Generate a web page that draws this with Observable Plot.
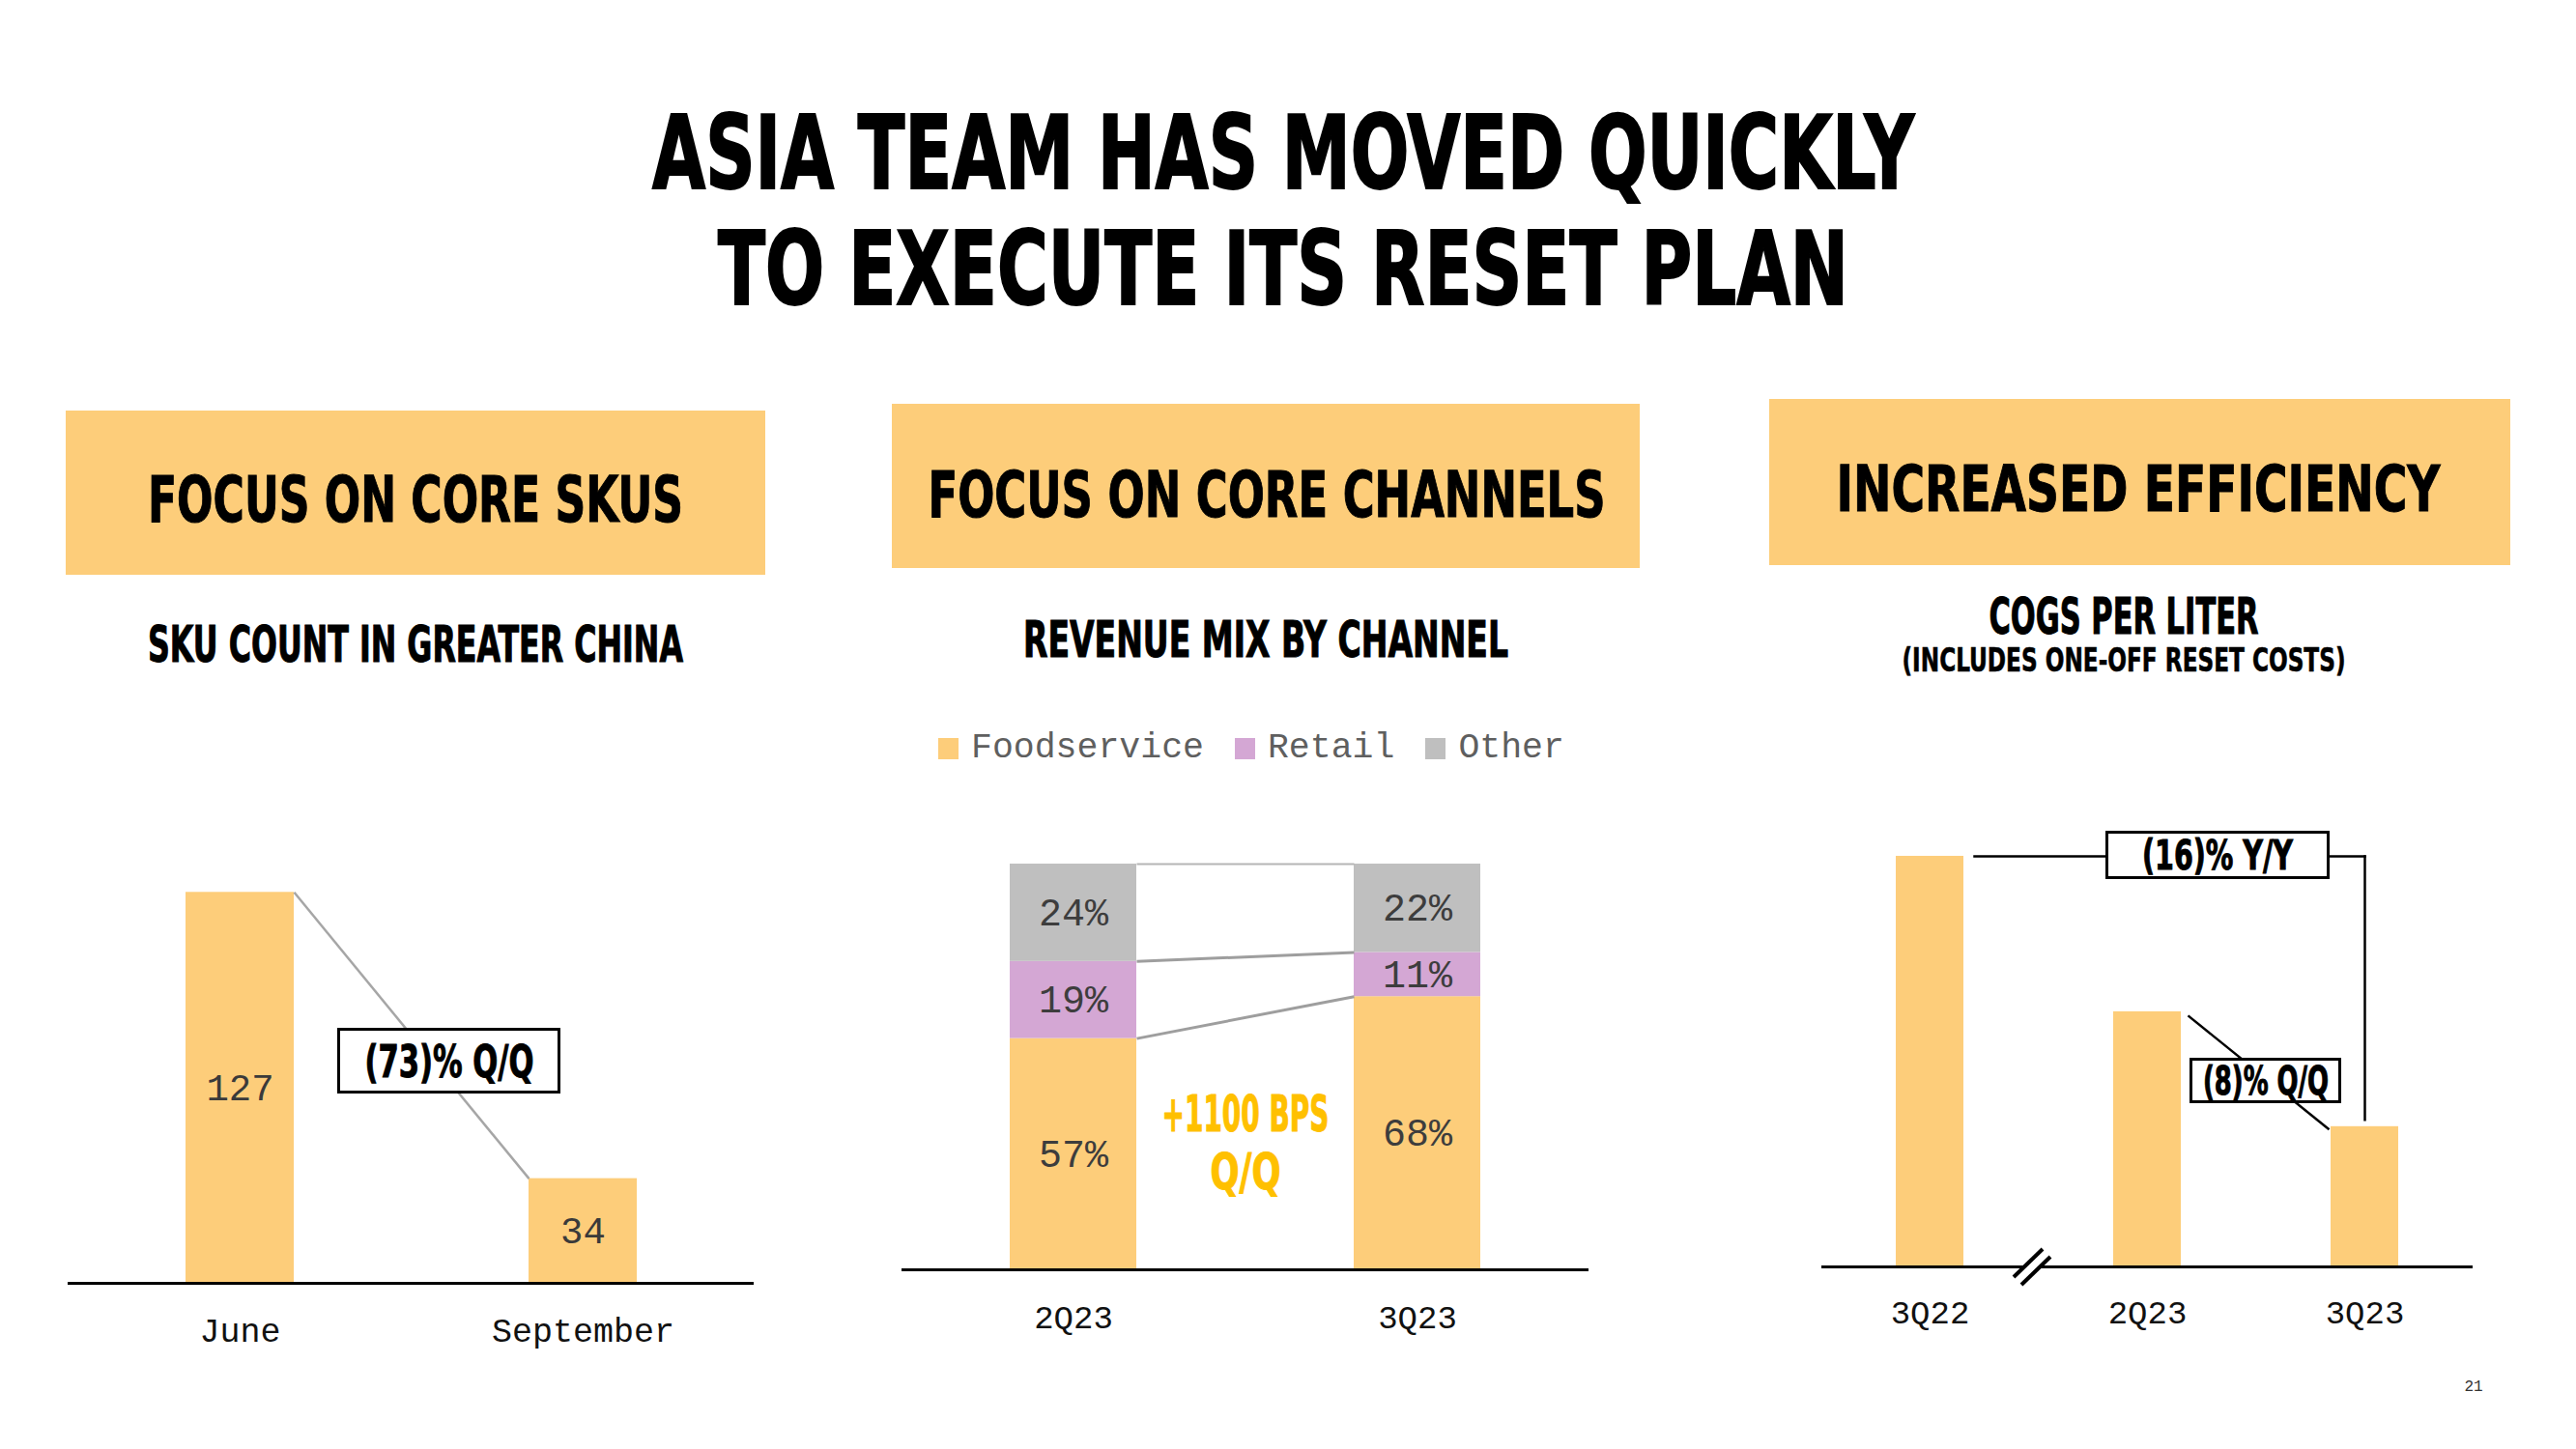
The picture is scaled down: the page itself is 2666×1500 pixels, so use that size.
<!DOCTYPE html>
<html>
<head>
<meta charset="utf-8">
<script src="https://cdn.jsdelivr.net/npm/d3@7"></script>
<script src="https://cdn.jsdelivr.net/npm/@observablehq/plot@0.6"></script>
<style>
  html, body { margin: 0; padding: 0; background: #fff; }
  #page { position: relative; width: 2666px; height: 1500px; overflow: hidden; background: #fff; }
  .abs { position: absolute; }
  .disp { font-family: "Liberation Sans Narrow", "DejaVu Sans Condensed", "Arial Narrow", sans-serif; font-weight: 700; white-space: nowrap; line-height: 1; }
  .mono { font-family: "Liberation Mono", "DejaVu Sans Mono", monospace; white-space: nowrap; line-height: 1; }
  .hbox { background: #FDCD7A; }
  .abox { background: #fff; border: 3px solid #000; box-sizing: border-box; }
</style>
</head>
<body>
<div id="page"></div>
<script>
// ---------------- DATA ----------------
const titleLines = ["ASIA TEAM HAS MOVED QUICKLY", "TO EXECUTE ITS RESET PLAN"];
const panelHeaders = ["FOCUS ON CORE SKUS", "FOCUS ON CORE CHANNELS", "INCREASED EFFICIENCY"];
const panelSubtitles = ["SKU COUNT IN GREATER CHINA", "REVENUE MIX BY CHANNEL", "COGS PER LITER"];
const cogsNote = "(INCLUDES ONE-OFF RESET COSTS)";

// Panel 1: SKU count
const skuMonths = ["June", "September"];
const skuCounts = [127, 34];
const skuChange = "(73)% Q/Q";

// Panel 2: revenue mix
const mixQuarters = ["2Q23", "3Q23"];
const channels = ["Foodservice", "Retail", "Other"];
const foodservice = [57, 68];
const retail = [19, 11];
const other = [24, 22];
const channelColors = ["#FDCD7A", "#D4A7D4", "#BFBFBF"];
const bpsLabel = ["+1100 BPS", "Q/Q"];

// Panel 3: COGS per liter (indexed, 3Q22 = 100, broken axis)
const cogsQuarters = ["3Q22", "2Q23", "3Q23"];
const cogsIndex = [100, 90.8, 84];
const cogsAxis = [75.7, 103.2];
const yoyLabel = "(16)% Y/Y";
const qoqLabel = "(8)% Q/Q";
const pageNumber = "21";

const BAR = channelColors[0];
const MONO = '"Liberation Mono", "DejaVu Sans Mono", monospace';

// ---------------- HELPERS ----------------
const page = document.getElementById("page");

function txt(str, {cx, cy, size, width = null, cls = "disp", color = "#000", ratio = null, left = null, stroke = 0}) {
  const d = document.createElement("div");
  d.className = "abs " + cls;
  d.textContent = str;
  d.style.fontSize = size + "px";
  d.style.color = color;
  if (stroke) d.style.webkitTextStroke = stroke + "px " + color;
  const r = ratio != null ? ratio : (cls === "mono" ? 0.44 : 0.48);
  d.style.top = (cy - r * size) + "px";
  page.appendChild(d);
  const w = d.getBoundingClientRect().width;
  const s = width ? width / w : 1;
  if (left != null) {
    d.style.left = left + "px";
    d.style.transformOrigin = "0 50%";
    d.style.transform = `scaleX(${s})`;
  } else {
    d.style.left = cx + "px";
    d.style.transform = `translateX(-50%) scaleX(${s})`;
  }
  return d;
}

function box(cls, x0, y0, x1, y1) {
  const d = document.createElement("div");
  d.className = "abs " + cls;
  Object.assign(d.style, {left: x0 + "px", top: y0 + "px", width: (x1 - x0) + "px", height: (y1 - y0) + "px"});
  page.appendChild(d);
  return d;
}

function place(svg, left, top) {
  svg.style.position = "absolute";
  svg.style.left = left + "px";
  svg.style.top = top + "px";
  page.appendChild(svg);
}

// shift link endpoints relative to band edges (fractions of bandwidth) plus pixel nudges
function shiftLink({x1 = 0, x2 = 0, px1 = 0, px2 = 0, py1 = 0, py2 = 0}) {
  return function (index, scales, values, dimensions, context, next) {
    const bw = scales.x && scales.x.bandwidth ? scales.x.bandwidth() : 0;
    const v = Object.assign({}, values);
    v.x1 = Array.from(values.x1, d => d + x1 * bw + px1);
    v.x2 = Array.from(values.x2 || values.x1, d => d + x2 * bw + px2);
    v.y1 = Array.from(values.y1, d => d + py1);
    v.y2 = Array.from(values.y2 || values.y1, d => d + py2);
    return next(index, scales, v, dimensions, context);
  };
}

const plotStyle = {fontFamily: MONO, fontSize: "35px", color: "#111", background: "transparent", overflow: "visible"};

// ---------------- TITLE & HEADERS ----------------
txt(titleLines[0], {cx: 1328, cy: 157, size: 106, width: 1306, stroke: 2});
txt(titleLines[1], {cx: 1328, cy: 277, size: 106, width: 1170, stroke: 2});

box("hbox", 68, 425, 792, 595);
box("hbox", 923, 418, 1697, 588);
box("hbox", 1831, 413, 2598, 585);
txt(panelHeaders[0], {cx: 430, cy: 517, size: 66, width: 554, stroke: 1});
txt(panelHeaders[1], {cx: 1311, cy: 512, size: 66, width: 701, stroke: 1});
txt(panelHeaders[2], {cx: 2213, cy: 506, size: 66, width: 625, stroke: 1});

txt(panelSubtitles[0], {cx: 430, cy: 666, size: 51, width: 554, stroke: 1});
txt(panelSubtitles[1], {cx: 1310, cy: 661, size: 51, width: 502, stroke: 1});
txt(panelSubtitles[2], {cx: 2198, cy: 637, size: 51, width: 279, stroke: 1});
txt(cogsNote, {cx: 2198, cy: 682, size: 34, width: 459, stroke: 0.6});

// ---------------- PANEL 1: SKU COUNT ----------------
const skuData = skuMonths.map((m, i) => ({month: m, count: skuCounts[i]}));
const skuPairs = [{a: skuMonths[0], va: skuCounts[0], b: skuMonths[1], vb: skuCounts[1]}];
const chart1 = Plot.plot({
  width: 850, height: 550,
  marginLeft: 70, marginRight: 70, marginTop: 0, marginBottom: 72,
  x: {domain: skuMonths, paddingInner: 0.685, paddingOuter: 0.34, label: null},
  y: {domain: [0, 150], axis: null},
  style: plotStyle,
  marks: [
    Plot.barY(skuData, {x: "month", y: "count", fill: BAR}),
    Plot.link(skuPairs, {x1: "a", y1: "va", x2: "b", y2: "vb", stroke: "#A6A6A6", strokeWidth: 2.5,
      render: shiftLink({x1: 0.5, x2: -0.5})}),
    Plot.text(skuData, {x: "month", y: d => d.count / 2, text: d => String(d.count), fontSize: 39, fill: "#3a3a3a"}),
    Plot.ruleY([0], {stroke: "#000", strokeWidth: 3}),
    Plot.axisX({tickSize: 0, tickPadding: 36, fontSize: 35, label: null})
  ]
});
place(chart1, 0, 850);

box("abox", 349, 1064, 580, 1132);
txt(skuChange, {cx: 465, cy: 1098, size: 47, width: 175, stroke: 1});

// ---------------- PANEL 2: REVENUE MIX ----------------
const seriesArr = [foodservice, retail, other];
const mixData = channels.flatMap((c, j) => mixQuarters.map((q, i) => ({quarter: q, channel: c, value: seriesArr[j][i]})));
const totals = mixQuarters.map((q, i) => d3.sum(seriesArr, s => s[i]));
const cum = mixQuarters.map((q, i) => { let s = 0; return seriesArr.map(arr => (s += arr[i]) / totals[i]); });
const mixLinks = channels.map((c, j) => ({a: mixQuarters[0], va: cum[0][j], b: mixQuarters[1], vb: cum[1][j], top: j === channels.length - 1}));

const chart2 = Plot.plot({
  width: 850, height: 550,
  marginLeft: 53, marginRight: 86, marginTop: 44, marginBottom: 86,
  x: {domain: mixQuarters, paddingInner: 0.632, paddingOuter: 0.314, label: null},
  y: {domain: [0, 1], axis: null},
  color: {domain: channels, range: channelColors},
  style: plotStyle,
  marks: [
    Plot.barY(mixData, Plot.stackY({offset: "normalize", x: "quarter", y: "value", fill: "channel", order: channels})),
    Plot.link(mixLinks.filter(d => !d.top), {x1: "a", y1: "va", x2: "b", y2: "vb", stroke: "#9E9E9E", strokeWidth: 3,
      render: shiftLink({x1: 0.5, x2: -0.5})}),
    Plot.link(mixLinks.filter(d => d.top), {x1: "a", y1: "va", x2: "b", y2: "vb", stroke: "#B5B5B5", strokeWidth: 2,
      render: shiftLink({x1: 0.5, x2: -0.5})}),
    Plot.text(mixData, Plot.stackY({offset: "normalize", x: "quarter", y: "value", z: "channel", order: channels,
      text: d => d.value + "%", fontSize: 40, fill: "#3d3d3d"})),
    Plot.ruleY([0], {stroke: "#000", strokeWidth: 3}),
    Plot.axisX({tickSize: 0, tickPadding: 36, fontSize: 34, label: null})
  ]
});
place(chart2, 880, 850);

txt(bpsLabel[0], {cx: 1289, cy: 1152, size: 51, width: 173, color: "#FFC000", stroke: 1});
txt(bpsLabel[1], {cx: 1289, cy: 1212, size: 51, width: 73, color: "#FFC000", stroke: 1});

// legend
const legend = document.createElement("div");
Object.assign(legend.style, {position: "absolute", left: "971px", top: "755px", height: "40px", display: "flex", alignItems: "center"});
channels.forEach((c, j) => {
  const sw = document.createElement("div");
  Object.assign(sw.style, {width: "21px", height: "22px", background: channelColors[j], marginRight: "13px", marginLeft: j ? "32px" : "0"});
  const lb = document.createElement("div");
  lb.className = "mono";
  lb.textContent = c;
  Object.assign(lb.style, {fontSize: "36.5px", color: "#5f5f5f"});
  legend.appendChild(sw);
  legend.appendChild(lb);
});
page.appendChild(legend);

// ---------------- PANEL 3: COGS PER LITER ----------------
const cogsData = cogsQuarters.map((q, i) => ({quarter: q, v: cogsIndex[i]}));
const last = cogsQuarters.length - 1;
const yoyH = [{a: cogsQuarters[0], va: cogsIndex[0], b: cogsQuarters[last], vb: cogsIndex[0]}];
const yoyV = [{a: cogsQuarters[last], va: cogsIndex[0], b: cogsQuarters[last], vb: cogsIndex[last]}];
const qoq = [{a: cogsQuarters[1], va: cogsIndex[1], b: cogsQuarters[2], vb: cogsIndex[2]}];

const chart3 = Plot.plot({
  width: 780, height: 570,
  marginLeft: 45, marginRight: 61, marginTop: 0, marginBottom: 89,
  x: {domain: cogsQuarters, paddingInner: 0.689, paddingOuter: 0.342, label: null},
  y: {domain: cogsAxis, axis: null},
  style: plotStyle,
  marks: [
    Plot.barY(cogsData, {x: "quarter", y1: cogsAxis[0], y2: "v", fill: BAR}),
    Plot.link(yoyH, {x1: "a", y1: "va", x2: "b", y2: "vb", stroke: "#000", strokeWidth: 2.5, strokeLinecap: "square",
      render: shiftLink({x1: 0.5, px1: 11})}),
    Plot.link(yoyV, {x1: "a", y1: "va", x2: "b", y2: "vb", stroke: "#000", strokeWidth: 2.5, strokeLinecap: "square",
      render: shiftLink({py2: -7})}),
    Plot.link(qoq, {x1: "a", y1: "va", x2: "b", y2: "vb", stroke: "#000", strokeWidth: 2.5,
      render: shiftLink({x1: 0.5, px1: 7, py1: 4, x2: -0.5, px2: -2, py2: 3})}),
    Plot.ruleY([cogsAxis[0]], {stroke: "#000", strokeWidth: 3}),
    Plot.axisX({tickSize: 0, tickPadding: 34, fontSize: 34, label: null})
  ]
});
place(chart3, 1840, 830);

box("abox", 2179, 860, 2411, 910);
txt(yoyLabel, {cx: 2295, cy: 885, size: 43, width: 156, stroke: 1});
box("abox", 2266, 1095, 2423, 1142);
txt(qoqLabel, {cx: 2345, cy: 1119, size: 41, width: 130, stroke: 1});

// axis break mark
const ns = "http://www.w3.org/2000/svg";
const brk = document.createElementNS(ns, "svg");
brk.setAttribute("width", "60"); brk.setAttribute("height", "60");
Object.assign(brk.style, {position: "absolute", left: "2073px", top: "1282px"});
brk.innerHTML = '<polygon points="11,40 41,11 49,19 19,48" fill="#fff"/>' +
  '<line x1="11" y1="40" x2="41" y2="11" stroke="#000" stroke-width="4"/>' +
  '<line x1="19" y1="48" x2="49" y2="19" stroke="#000" stroke-width="4"/>';
page.appendChild(brk);

// page number
txt(pageNumber, {cx: 2560, cy: 1435, size: 16, cls: "mono", color: "#333"});
</script>
</body>
</html>
